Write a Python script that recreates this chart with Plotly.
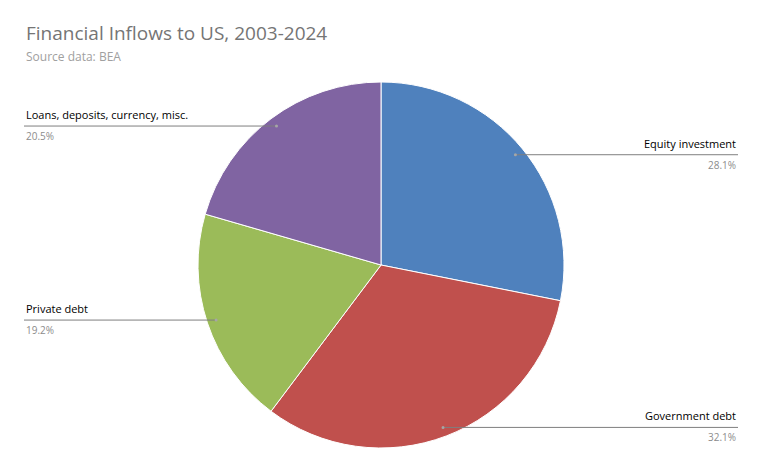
import math
import plotly.graph_objects as go

labels = ["Equity investment", "Government debt", "Private debt", "Loans, deposits, currency, misc."]
values = [28.1, 32.1, 19.2, 20.5]
colors = ["#4F81BD", "#C0504D", "#9BBB59", "#8064A2"]

W, H = 762, 471
OFF = 8
cx, cy, R = 381, 265, 183

def px(x): return (x - OFF) / W
def py(y): return 1 - (y - OFF) / H

fig = go.Figure(go.Pie(
    labels=labels, values=values, sort=False, direction="clockwise", rotation=0,
    marker=dict(colors=colors, line=dict(color="white", width=1)),
    textinfo="none", hoverinfo="label+percent", showlegend=False,
    domain=dict(x=[px(cx - R), px(cx + R)], y=[py(cy + R), py(cy - R)]),
))

total = sum(values)
cum = 0
shapes, annos = [], []
for lab, v in zip(labels, values):
    mid = (cum + v / 2) / total * 2 * math.pi
    cum += v
    dx = cx + 0.95 * R * math.sin(mid)
    dy = cy - 0.95 * R * math.cos(mid)
    right = math.sin(mid) > 0
    ex = 738 if right else 24
    shapes.append(dict(type="line", xref="paper", yref="paper", x0=px(dx), y0=py(dy), x1=px(ex), y1=py(dy),
                       line=dict(color="#7f7f7f", width=1)))
    shapes.append(dict(type="circle", xref="paper", yref="paper", x0=px(dx - 1.5), x1=px(dx + 1.5),
                       y0=py(dy + 1.5), y1=py(dy - 1.5), fillcolor="#a6a6a6", line=dict(width=0)))
    anchor = "right" if right else "left"
    annos.append(dict(x=px(ex), y=py(dy - 2), xref="paper", yref="paper", text=lab, showarrow=False,
                      xanchor=anchor, yanchor="bottom", font=dict(size=11, color="#000000")))
    annos.append(dict(x=px(ex), y=py(dy + 1), xref="paper", yref="paper", text=f"{v:.1f}%", showarrow=False,
                      xanchor=anchor, yanchor="top", font=dict(size=10, color="#8c8c8c")))

annos.append(dict(x=px(24), y=py(33), xref="paper", yref="paper", text="Financial Inflows to US, 2003-2024",
                  showarrow=False, xanchor="left", yanchor="middle", font=dict(size=19, color="#757575")))
annos.append(dict(x=px(24), y=py(57), xref="paper", yref="paper", text="Source data: BEA",
                  showarrow=False, xanchor="left", yanchor="middle", font=dict(size=12, color="#a0a0a0")))

fig.update_layout(width=W, height=H, margin=dict(l=0, r=0, t=0, b=0),
                  paper_bgcolor="white", plot_bgcolor="white",
                  font=dict(family="Open Sans, Calibri, sans-serif"),
                  shapes=shapes, annotations=annos)
fig.write_html("out.html")
